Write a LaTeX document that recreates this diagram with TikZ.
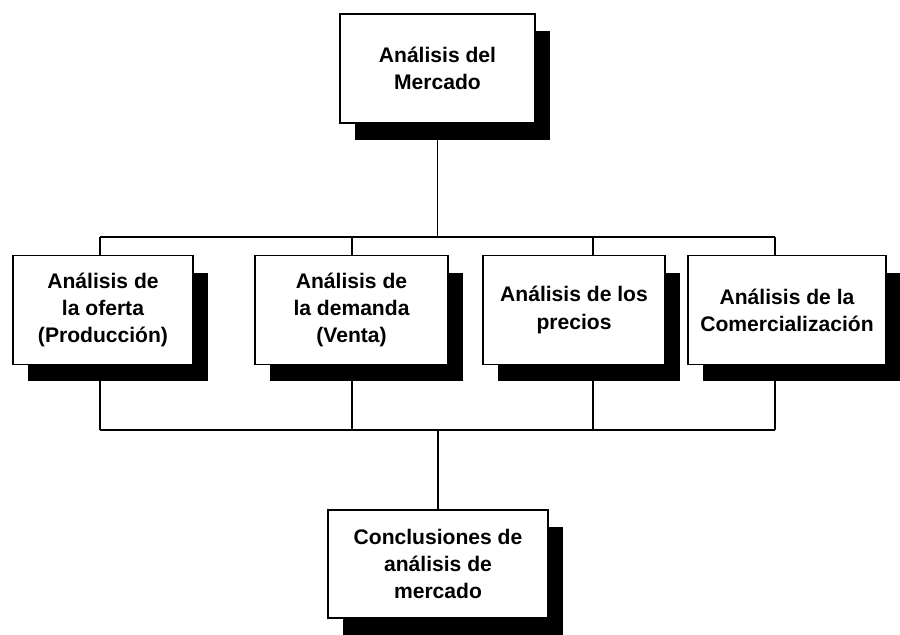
\documentclass[tikz,border=0pt]{standalone}
\usepackage{fontspec}
\setmainfont{Liberation Sans}
\usetikzlibrary{shadows}
\tikzset{caja/.style={draw, line width=1.1pt, fill=white, align=center, font=\bfseries\fontsize{12}{15.5}\selectfont, inner sep=2pt, minimum height=2.18cm, drop shadow={shadow xshift=0.3cm, shadow yshift=-0.34cm, fill=black, opacity=1}},
 conn/.style={line width=0.8pt}}
\begin{document}
\begin{tikzpicture}[x=0.02cm, y=-0.02cm]
 \useasboundingbox (0,0) rectangle (900,635);
 \node[caja, minimum width=3.9cm] (mercado) at (437.5,68.5) {Análisis del\\Mercado};
 \node[caja, minimum width=3.6cm] (oferta) at (103,310) {Análisis de\\la oferta\\(Producción)};
 \node[caja, minimum width=3.86cm] (demanda) at (351.5,310) {Análisis de\\la demanda\\(Venta)};
 \node[caja, minimum width=3.64cm] (precios) at (574,310) {Análisis de los\\precios};
 \node[caja, minimum width=3.96cm] (comerc) at (787,310) {Análisis de la\\Comercialización};
 \node[caja, minimum width=4.4cm, minimum height=2.16cm] (concl) at (438,564) {Conclusiones de\\análisis de\\mercado};
 \coordinate (ba) at (100,237); \coordinate (bb) at (775,237);
 \coordinate (ca) at (100,430); \coordinate (cb) at (775,430);
 \begin{scope}[on background layer/.try]
 \draw[conn] (ba)--(bb);
 \draw[conn] (ca)--(cb);
 \draw[conn] (mercado.south)--(mercado.south |- ba);
 \draw[conn] (concl.north)--(concl.north |- ca);
 \foreach \n/\dx in {oferta/-3, demanda/0.5, precios/19, comerc/-12}{
   \draw[conn] ([xshift=\dx*0.02cm]\n.north)--([xshift=\dx*0.02cm]\n.north |- ba);
   \draw[conn] ([xshift=\dx*0.02cm]\n.south)--([xshift=\dx*0.02cm]\n.south |- ca);
 }
 \end{scope}
\end{tikzpicture}
\end{document}
